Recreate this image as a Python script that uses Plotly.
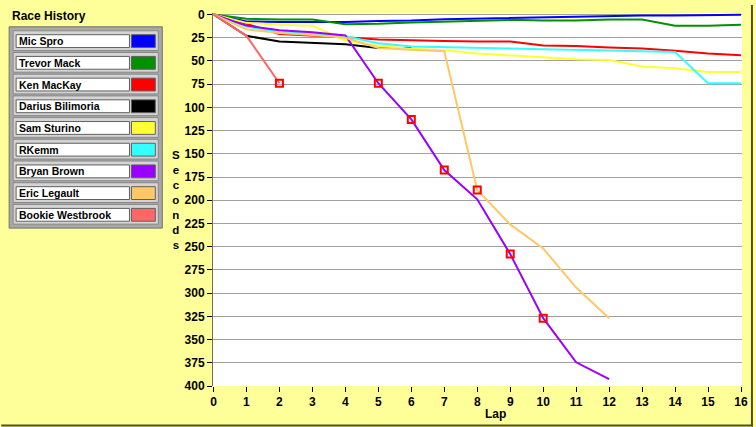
import plotly.graph_objects as go

# race data: cumulative seconds behind the leader, per lap
laps = list(range(17))

drivers = ["Mic Spro", "Trevor Mack", "Ken MacKay", "Darius Bilimoria", "Sam Sturino",
           "RKemm", "Bryan Brown", "Eric Legault", "Bookie Westbrook"]
colors = ["#0000FF", "#009000", "#FF0000", "#000000", "#FFFF33",
          "#33FFFF", "#9900FF", "#FFC866", "#FF6666"]

mic_spro = [0, 7.5, 8, 8, 8, 7, 6.5, 5, 4.3, 3.5, 3, 2.3, 1.5, 1.2, 1, 0.3, 0.2]
trevor_mack = [0, 4.5, 5.5, 5.5, 10.5, 10, 8.5, 7.5, 6.5, 5.8, 6.5, 6.5, 5.5, 5.5, 12.2, 12.2, 11]
ken_mackay = [0, 10, 21, 22.5, 24.5, 27, 28, 28.5, 29, 29, 33.5, 34, 35.5, 36.5, 39, 42, 44]
darius_bilimoria = [0, 23, 29, 30.5, 32, 36, 36]
sam_sturino = [0, 9, 11, 12, 28, 34, 37, 38.5, 42, 44, 46.5, 48.3, 49, 56, 58, 62, 62]
rkemm = [0, 13, 19, 20.5, 23.5, 31, 34.5, 35, 35.5, 36.5, 37.5, 38.5, 38.8, 39.5, 40.5, 74, 74]
bryan_brown = [0, 12, 17, 19, 22.5, 74, 113, 167.5, 199, 258, 327, 374.5, 392.5]
eric_legault = [0, 16, 20, 22, 25, 36, 38, 39.5, 189, 226, 252, 294, 327]
bookie_westbrook = [0, 23, 74]

series = [mic_spro, trevor_mack, ken_mackay, darius_bilimoria, sam_sturino,
          rkemm, bryan_brown, eric_legault, bookie_westbrook]

# flagged laps (red squares)
event_driver = ["Bookie Westbrook", "Bryan Brown", "Bryan Brown", "Bryan Brown",
                "Eric Legault", "Bryan Brown", "Bryan Brown"]
event_lap = [2, 5, 6, 7, 8, 9, 10]

y_ticks = list(range(0, 401, 25))
x_ticks = list(range(0, 17))

BG = "#FFFF99"
FONT = "Liberation Sans"

# pixel -> paper helpers (plot area is 213..745 x 8..386)
def xp(px):
    return (px - 213) / 532.0

def yp(py):
    return (386 - py) / 378.0

fig = go.Figure()

for name, vals, col in zip(drivers, series, colors):
    fig.add_trace(go.Scatter(x=laps[:len(vals)], y=vals, mode="lines", name=name,
                             line=dict(color=col, width=2), hoverinfo="x+y+name"))

ev_x, ev_y = [], []
for d, lp in zip(event_driver, event_lap):
    ev_x.append(lp)
    ev_y.append(series[drivers.index(d)][lp])
fig.add_trace(go.Scatter(x=ev_x, y=ev_y, mode="markers", showlegend=False,
                         marker=dict(symbol="square-open", size=7, color="#FF0000",
                                     line=dict(width=2, color="#FF0000"))))

shapes = []
annotations = []

# custom legend panel
shapes.append(dict(type="rect", xref="paper", yref="paper", x0=xp(8), x1=xp(162),
                   y0=yp(226), y1=yp(22), fillcolor="#A8A8A8",
                   line=dict(color="#707070", width=1), layer="above"))
for i, (name, col) in enumerate(zip(drivers, colors)):
    top = 26 + 22 * i
    shapes.append(dict(type="rect", xref="paper", yref="paper", x0=xp(12), x1=xp(158),
                       y0=yp(top + 20), y1=yp(top), fillcolor="#D4D4D4",
                       line=dict(color="#888888", width=1), layer="above"))
    shapes.append(dict(type="rect", xref="paper", yref="paper", x0=xp(15), x1=xp(129),
                       y0=yp(top + 17), y1=yp(top + 4), fillcolor="white",
                       line=dict(color="#606060", width=1), layer="above"))
    shapes.append(dict(type="rect", xref="paper", yref="paper", x0=xp(131), x1=xp(155),
                       y0=yp(top + 17), y1=yp(top + 4), fillcolor=col,
                       line=dict(color="#606060", width=1), layer="above"))
    annotations.append(dict(xref="paper", yref="paper", x=xp(16), y=yp(top + 10.5),
                            text=name, showarrow=False, xanchor="left", yanchor="middle",
                            font=dict(family=FONT, size=10.5, color="black", weight="bold")))

annotations.append(dict(xref="paper", yref="paper", x=xp(9), y=yp(11.5), text="Race History",
                        showarrow=False, xanchor="left", yanchor="middle",
                        font=dict(family=FONT, size=12, color="black", weight="bold")))

annotations.append(dict(xref="paper", yref="paper", x=xp(176), y=yp(197),
                        text="<br>".join("Seconds"), showarrow=False,
                        xanchor="center", yanchor="middle",
                        font=dict(family=FONT, size=11.5, color="black", weight="bold")))

annotations.append(dict(xref="paper", yref="paper", x=xp(497), y=yp(414), text="Lap",
                        showarrow=False, xanchor="center", yanchor="middle",
                        font=dict(family=FONT, size=12, color="black", weight="bold")))

# dark window border (bottom, right)
shapes.append(dict(type="line", xref="paper", yref="paper", x0=xp(0), x1=xp(756),
                   y0=yp(426), y1=yp(426), line=dict(color="#505028", width=2)))
shapes.append(dict(type="line", xref="paper", yref="paper", x0=xp(755), x1=xp(755),
                   y0=yp(0), y1=yp(427), line=dict(color="#505028", width=2)))

fig.update_layout(
    width=756, height=427,
    margin=dict(l=213, r=11, t=8, b=41),
    paper_bgcolor=BG, plot_bgcolor="white",
    showlegend=False,
    shapes=shapes, annotations=annotations,
    font=dict(family=FONT, color="black"),
)
fig.update_xaxes(range=[-0.015, 16.03], tickvals=x_ticks, showgrid=False, zeroline=False,
                 showline=False, ticks="outside", ticklen=5, tickcolor="black",
                 tickfont=dict(family=FONT, size=12, color="black", weight="bold"))
fig.update_yaxes(range=[400, -1.6], tickvals=y_ticks, showgrid=True, gridcolor="#A0A0A0",
                 gridwidth=1, zeroline=False, showline=True, linecolor="#707050", linewidth=1,
                 ticks="outside", ticklen=5, tickcolor="black",
                 tickfont=dict(family=FONT, size=12, color="black", weight="bold"))

fig.write_html("out.html", config={"displayModeBar": False},
               post_script="document.body.style.margin='0';")
